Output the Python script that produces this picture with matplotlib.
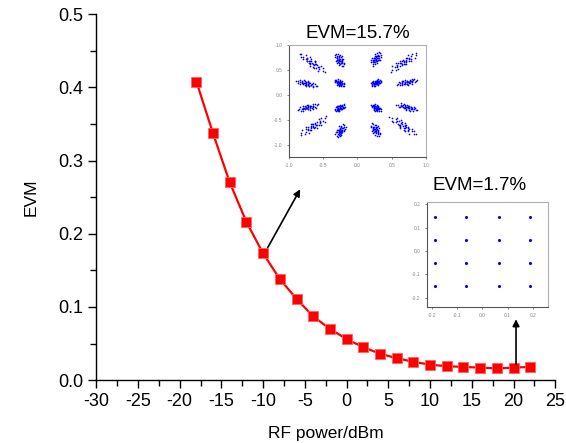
import numpy as np
import matplotlib
matplotlib.use('Agg')
from matplotlib import pyplot as plt
from matplotlib.ticker import MultipleLocator

plt.rcParams['font.family'] = ['Liberation Sans', 'DejaVu Sans']
plt.rcParams['axes.unicode_minus'] = False

# main curve
rf_power = [-18, -16, -14, -12, -10, -8, -6, -4, -2, 0, 2, 4, 6, 8, 10, 12, 14, 16, 18, 20, 22]
evm = [0.408, 0.337, 0.270, 0.216, 0.173, 0.138, 0.111, 0.087, 0.070, 0.056, 0.045,
       0.036, 0.030, 0.025, 0.021, 0.019, 0.018, 0.017, 0.016, 0.017, 0.018]

# inset 1: 16QAM at low power, cluster centres and spreads (radial, tangential)
c1_x = [-0.66, -0.26, 0.27, 0.67, -0.74, -0.26, 0.27, 0.72,
        -0.72, -0.26, 0.27, 0.72, -0.64, -0.25, 0.26, 0.66]
c1_y = [0.64, 0.70, 0.72, 0.65, 0.23, 0.24, 0.24, 0.25,
        -0.25, -0.26, -0.26, -0.25, -0.62, -0.72, -0.70, -0.62]
c1_rad = [0.26, 0.14, 0.14, 0.26, 0.16, 0.09, 0.09, 0.16,
          0.16, 0.09, 0.09, 0.16, 0.26, 0.14, 0.14, 0.26]
c1_tan = [0.10, 0.09, 0.09, 0.10, 0.08, 0.08, 0.08, 0.08,
          0.08, 0.08, 0.08, 0.08, 0.10, 0.09, 0.09, 0.10]

# shape of one noisy cluster (unit offsets)
cloud_u = [0.05, -0.12, 0.20, -0.30, 0.35, -0.45, 0.50, -0.08, 0.12, -0.60,
           0.65, -0.25, 0.28, -0.70, 0.78, -0.15, 0.10, -0.40, 0.42, -0.55,
           0.58, -0.85, 0.90, 0.02, -0.05, 0.22, -0.20, 0.32, -0.35, 0.40,
           -1.00, 0.98, -0.65, 0.70, 0.15, -0.18, 0.05, -0.02, 0.48, -0.50]
cloud_v = [0.02, 0.10, -0.08, -0.15, 0.22, 0.05, -0.20, -0.35, 0.40, 0.25,
           0.10, 0.45, -0.42, -0.30, 0.35, -0.10, 0.15, 0.30, -0.05, -0.45,
           0.48, 0.10, -0.15, -0.60, 0.65, 0.05, -0.25, 0.30, 0.60, -0.60,
           -0.05, 0.05, 0.55, -0.50, -0.20, 0.22, 0.35, -0.45, 0.12, -0.10]

# inset 2: 16QAM at high power
c2_x = [-0.19, -0.065, 0.065, 0.19] * 4
c2_y = [0.145] * 4 + [0.048] * 4 + [-0.05] * 4 + [-0.148] * 4

fig = plt.figure(figsize=(5.66, 4.43), dpi=100)
ax = fig.add_axes([0.170, 0.142, 0.811, 0.826])
ax.plot(rf_power, evm, '-s', color='red', lw=1.6, markersize=6.5,
        markerfacecolor='red', markeredgecolor='#ff6060', markeredgewidth=0.6)
ax.set_xlim(-30, 25)
ax.set_ylim(0, 0.5)
ax.xaxis.set_major_locator(MultipleLocator(5))
ax.xaxis.set_minor_locator(MultipleLocator(2.5))
ax.yaxis.set_major_locator(MultipleLocator(0.1))
ax.yaxis.set_minor_locator(MultipleLocator(0.05))
ax.yaxis.set_major_formatter(matplotlib.ticker.FormatStrFormatter('%.1f'))
for s in ['top', 'right']:
    ax.spines[s].set_visible(False)
for s in ['left', 'bottom']:
    ax.spines[s].set_linewidth(1.0)
ax.tick_params(which='major', direction='out', length=6, width=1, labelsize=13)
ax.tick_params(which='minor', direction='out', length=4, width=1)
ax.set_xlabel('RF power/dBm', fontsize=12.5, labelpad=11)
ax.set_ylabel('EVM', fontsize=12.5, labelpad=14)

arrow = dict(arrowstyle='-|>', color='black', lw=1.2, mutation_scale=10)
ax.annotate('', xy=(-5.4, 0.264), xytext=(-9.6, 0.178), arrowprops=arrow)
ax.annotate('', xy=(20.3, 0.087), xytext=(20.3, 0.018), arrowprops=arrow)


def style_inset(a):
    for s in ['top', 'right']:
        a.spines[s].set_color('#b0b0b0')
    for s in ['left', 'bottom']:
        a.spines[s].set_color('#555555')
    for s in a.spines.values():
        s.set_linewidth(0.8)
    a.tick_params(labelsize=3.5, labelcolor='#888888', length=1.5, width=0.5,
                  color='#555555', pad=3)


# inset 1
ax1 = fig.add_axes([0.5106, 0.6456, 0.242, 0.2528])
px, py = [], []
for cx, cy, sr, st in zip(c1_x, c1_y, c1_rad, c1_tan):
    r = np.hypot(cx, cy)
    rx, ry = cx / r, cy / r
    for u, v in zip(cloud_u, cloud_v):
        px.append(cx + u * sr * rx - v * st * ry)
        py.append(cy + u * sr * ry + v * st * rx)
ax1.scatter(px, py, s=1.5, color='blue', linewidths=0)
ax1.set_xlim(-1.0, 1.0)
ax1.set_ylim(-1.25, 1.0)
ax1.set_xticks([-1.0, -0.5, 0.0, 0.5, 1.0])
ax1.set_yticks([-1.0, -0.5, 0.0, 0.5, 1.0])
style_inset(ax1)
fig.text(358 / 566, 1 - 33 / 443, 'EVM=15.7%', ha='center', va='center', fontsize=13.5)

# inset 2
ax2 = fig.add_axes([0.7544, 0.307, 0.2138, 0.237])
ax2.scatter(c2_x, c2_y, s=5, color='blue', linewidths=0)
ax2.set_xlim(-0.22, 0.26)
ax2.set_ylim(-0.24, 0.21)
ax2.set_xticks([-0.2, -0.1, 0.0, 0.1, 0.2])
ax2.set_yticks([-0.2, -0.1, 0.0, 0.1, 0.2])
style_inset(ax2)
fig.text(480 / 566, 1 - 185 / 443, 'EVM=1.7%', ha='center', va='center', fontsize=13.5)

plt.savefig('out.png', dpi=100)
